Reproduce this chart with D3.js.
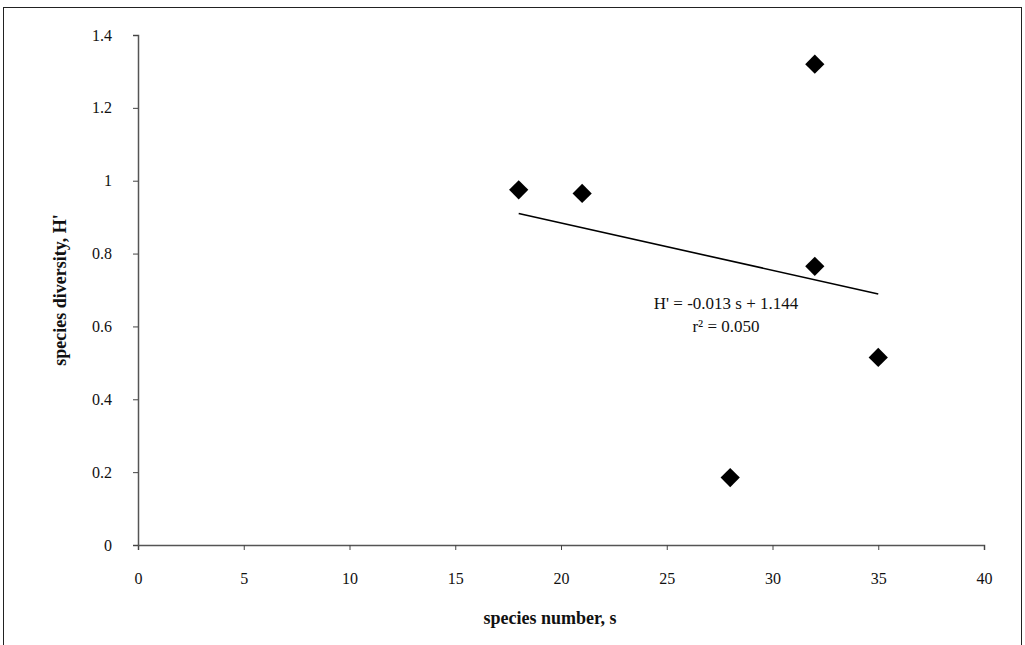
<!DOCTYPE html>
<html>
<head>
<meta charset="utf-8">
<script src="https://cdn.jsdelivr.net/npm/d3@7"></script>
<style>
  body { margin: 0; background: #fff; }
  svg text { font-family: "Liberation Serif", "DejaVu Serif", serif; fill: #111; }
</style>
</head>
<body>
<div id="grafico"></div>
<script>
// datos
const especies = [18, 21, 32, 32, 35, 28];
const diversidad = [0.975, 0.965, 1.32, 0.765, 0.515, 0.185];
const ticks_x = [0, 5, 10, 15, 20, 25, 30, 35, 40];
const ticks_y = [0, 0.2, 0.4, 0.6, 0.8, 1, 1.2, 1.4];
const pendiente = -0.013;
const intercepto = 1.144;
const rango_ajuste = [18, 35];
const textos_ecuacion = ["H' = -0.013 s + 1.144", "r² = 0.050"];

function crearGrafico(){
    const svg = d3.select("#grafico").append("svg")
        .attr("width", 1025)
        .attr("height", 645);

    // marco exterior
    svg.append("rect")
        .attr("x", 3.5).attr("y", 7.5)
        .attr("width", 1018).attr("height", 660)
        .attr("fill", "none")
        .attr("stroke", "#222")
        .attr("stroke-width", 1);

    const x = d3.scaleLinear().domain([0, 40]).range([138, 984]);
    const y = d3.scaleLinear().domain([0, 1.4]).range([545, 35]);

    const ejeX = svg.append("g")
        .attr("transform", "translate(0,545)")
        .call(d3.axisBottom(x).tickValues(ticks_x).tickSize(5).tickPadding(23).tickFormat(d3.format("d")));
    const ejeY = svg.append("g")
        .attr("transform", "translate(138,0)")
        .call(d3.axisLeft(y).tickValues(ticks_y).tickSize(5).tickPadding(21).tickFormat(d => d));

    [ejeX, ejeY].forEach(eje => {
        eje.select(".domain").attr("stroke", "#555").attr("stroke-width", 1.5);
        eje.selectAll(".tick line").attr("stroke", "#444");
        eje.selectAll(".tick text")
            .style("font-family", "'Liberation Serif', serif")
            .style("font-size", "16px")
            .attr("fill", "#111");
    });

    // linea de regresion
    const linea = d3.line()
        .x(d => x(d))
        .y(d => y(pendiente * d + intercepto));
    svg.append("path")
        .datum(rango_ajuste)
        .attr("d", linea)
        .attr("fill", "none")
        .attr("stroke", "#000")
        .attr("stroke-width", 1.6);

    // puntos en forma de rombo
    const rombo = d3.symbol().type(d3.symbolSquare).size(185);
    svg.selectAll("path.punto")
        .data(especies.map((s, i) => ({s: s, h: diversidad[i]})))
        .join("path")
        .attr("class", "punto")
        .attr("d", rombo)
        .attr("transform", d => `translate(${x(d.s)},${y(d.h)}) rotate(45)`)
        .attr("fill", "#000");

    // ecuacion
    svg.selectAll("text.ecuacion")
        .data(textos_ecuacion)
        .join("text")
        .attr("class", "ecuacion")
        .attr("x", 726)
        .attr("y", (d, i) => 309 + i * 23)
        .attr("text-anchor", "middle")
        .style("font-size", "17px")
        .text(d => d);

    // titulos de ejes
    svg.append("text")
        .attr("x", 550).attr("y", 624)
        .attr("text-anchor", "middle")
        .style("font-size", "18px")
        .style("font-weight", "bold")
        .text("species number, s");
    svg.append("text")
        .attr("transform", "translate(66,290) rotate(-90)")
        .attr("text-anchor", "middle")
        .style("font-size", "18px")
        .style("font-weight", "bold")
        .text("species diversity, H'");
}
crearGrafico();
</script>
</body>
</html>
